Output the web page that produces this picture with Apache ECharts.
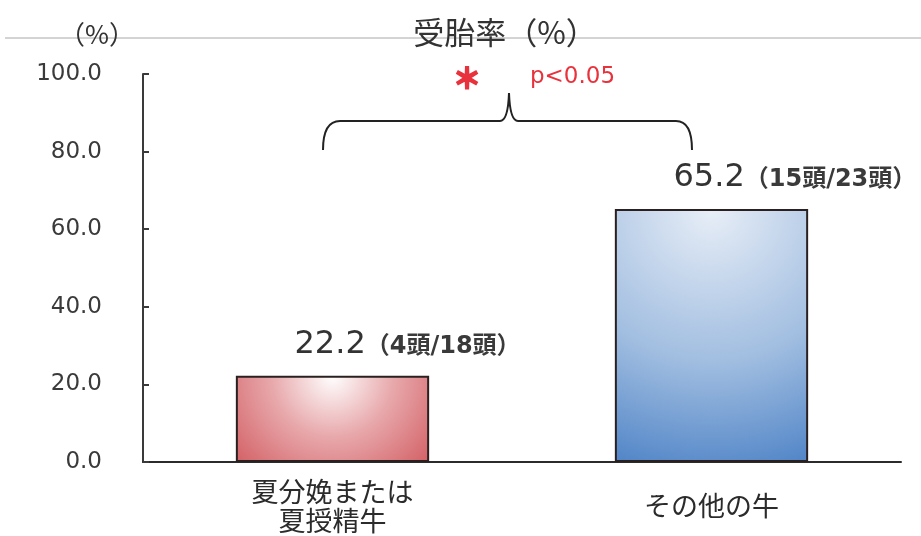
<!DOCTYPE html>
<html>
<head>
<meta charset="utf-8">
<script src="https://cdn.jsdelivr.net/npm/echarts@6/dist/echarts.min.js"></script>
<style>
  html, body { margin: 0; padding: 0; background: #fff; }
  #chart { width: 921px; height: 536px; }
</style>
</head>
<body>
<div id="chart"></div>
<script>
// Conception rate by group
const categories = ['夏分娩または\n夏授精牛', 'その他の牛'];
const rates = [22.2, 65.2];
const pregnantHeads = [4, 15];
const totalHeads = [18, 23];
const yTicks = [0, 20, 40, 60, 80, 100];

const NUM_FONT = '"DejaVu Sans", "Noto Sans CJK JP", sans-serif';
const JP_FONT = '"Noto Sans CJK JP", "DejaVu Sans", sans-serif';

const barFills = [
  {
    type: 'radial', x: 0.5, y: 0.0, r: 1.75,
    colorStops: [
      { offset: 0, color: '#ffffff' },
      { offset: 0.4, color: '#e8a9ac' },
      { offset: 1, color: '#cc4a50' }
    ]
  },
  {
    type: 'radial', x: 0.5, y: 0.0, r: 1.45,
    colorStops: [
      { offset: 0, color: '#e8eef7' },
      { offset: 0.55, color: '#a0bde0' },
      { offset: 1, color: '#4a80c5' }
    ]
  }
];

const braceStyle = { fill: null, stroke: '#222222', lineWidth: 2 };

const chart = echarts.init(document.getElementById('chart'), null, { renderer: 'canvas' });

chart.setOption({
  backgroundColor: '#ffffff',
  animation: false,
  grid: { left: 143, right: 20, top: 74, bottom: 74, containLabel: false },
  xAxis: {
    type: 'category',
    data: categories,
    axisLine: { show: true, lineStyle: { color: '#2b2b2b', width: 2 } },
    axisTick: { show: false },
    axisLabel: {
      interval: 0,
      margin: 44,
      verticalAlign: 'middle',
      fontFamily: JP_FONT,
      fontSize: 27,
      lineHeight: 29,
      color: '#2b2b2b'
    }
  },
  yAxis: {
    type: 'value',
    min: yTicks[0],
    max: yTicks[yTicks.length - 1],
    interval: yTicks[1] - yTicks[0],
    splitLine: { show: false },
    axisLine: { show: true, lineStyle: { color: '#3a3a3a', width: 2 } },
    axisTick: { show: true, inside: true, length: 6, lineStyle: { color: '#3a3a3a', width: 2 } },
    axisLabel: {
      margin: 41,
      fontFamily: NUM_FONT,
      fontSize: 23,
      color: '#3a3a3a',
      formatter: v => v.toFixed(1)
    }
  },
  series: [{
    type: 'bar',
    barWidth: '51%',
    data: rates.map((v, i) => ({
      value: v,
      itemStyle: { color: barFills[i], borderColor: '#2a2020', borderWidth: 2 }
    })),
    label: {
      show: true,
      position: 'top',
      distance: 0,
      align: 'left',
      verticalAlign: 'middle',
      offset: [-38, -31],
      formatter: p => '{v|' + p.value.toFixed(1) + '}{n|（' + pregnantHeads[p.dataIndex] + '頭/' + totalHeads[p.dataIndex] + '頭）}',
      rich: {
        v: { fontFamily: NUM_FONT, fontSize: 32, color: '#333333' },
        n: { fontFamily: NUM_FONT, fontSize: 24, fontWeight: 'bold', color: '#3a3a3a', padding: [4, 0, 0, 0] }
      }
    }
  }],
  graphic: [
    // thin rule across the top
    { type: 'line', z: 0, shape: { x1: 5, y1: 38, x2: 921, y2: 38 }, style: { stroke: '#a8a8a8', lineWidth: 1 } },
    { type: 'text', z: 5, x: 97, y: 34, style: { text: '（%）', font: '26px ' + JP_FONT, fill: '#333333', align: 'center', verticalAlign: 'middle' } },
    { type: 'text', z: 5, x: 505, y: 32, style: { text: '受胎率（%）', font: '31px ' + JP_FONT, fill: '#333333', align: 'center', verticalAlign: 'middle' } },
    // significance brace between the two groups
    { type: 'bezierCurve', z: 5, shape: { x1: 323, y1: 150, cpx1: 323, cpy1: 121, x2: 340, y2: 121 }, style: braceStyle },
    { type: 'line', z: 5, shape: { x1: 340, y1: 121, x2: 500, y2: 121 }, style: braceStyle },
    { type: 'bezierCurve', z: 5, shape: { x1: 500, y1: 121, cpx1: 508, cpy1: 121, x2: 509, y2: 93 }, style: braceStyle },
    { type: 'bezierCurve', z: 5, shape: { x1: 509, y1: 93, cpx1: 510, cpy1: 121, x2: 518, y2: 121 }, style: braceStyle },
    { type: 'line', z: 5, shape: { x1: 518, y1: 121, x2: 676, y2: 121 }, style: braceStyle },
    { type: 'bezierCurve', z: 5, shape: { x1: 676, y1: 121, cpx1: 692, cpy1: 121, x2: 692, y2: 150 }, style: braceStyle },
    { type: 'text', z: 5, x: 467, y: 78, style: { text: '＊', font: 'bold 28px ' + JP_FONT, fill: '#e8323c', stroke: '#e8323c', lineWidth: 2, align: 'center', verticalAlign: 'middle' } },
    { type: 'text', z: 5, x: 530, y: 77, style: { text: 'p<0.05', font: '23px ' + NUM_FONT, fill: '#e8323c', align: 'left', verticalAlign: 'middle' } }
  ]
});
</script>
</body>
</html>
